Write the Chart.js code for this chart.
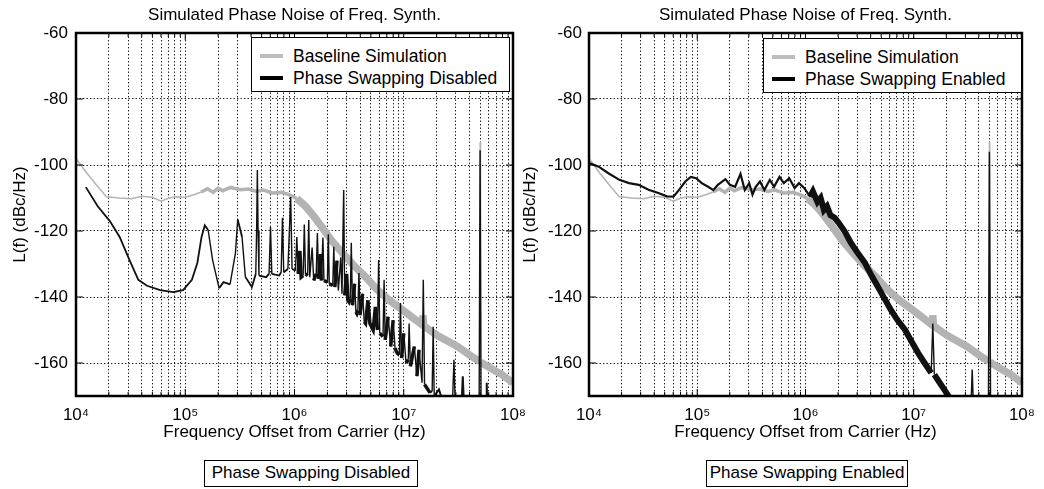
<!DOCTYPE html>
<html>
<head>
<meta charset="utf-8">
<script src="https://cdn.jsdelivr.net/npm/chart.js@4.4.1/dist/chart.umd.min.js"></script>
<style>
  body { margin: 0; background: #fff; font-family: "Liberation Sans", Arial, sans-serif; color: #000; }
  #page { position: relative; width: 1044px; height: 489px; overflow: hidden; }
  .panel { position: absolute; top: 0; height: 450px; }
  #leftPanel { left: 0; width: 540px; }
  #rightPanel { left: 520px; width: 524px; }
  .legend { position: absolute; box-sizing: border-box; width: 259px; height: 55px; border: 1.5px solid #000; background: #fff; font-size: 17.5px; }
  .row { position: absolute; left: 0; right: 0; height: 20px; line-height: 20px; }
  .swatch { position: absolute; left: 8px; top: 8px; width: 23px; height: 4px; }
  .label { position: absolute; left: 41px; top: 0; white-space: nowrap; }
  .caption { position: absolute; top: 460px; height: 27px; box-sizing: border-box; border: 1.5px solid #000; font-size: 17px; line-height: 24px; text-align: center; white-space: nowrap; }
</style>
</head>
<body>
<div id="page">
  <div class="panel" id="leftPanel"><canvas id="disabledChart"></canvas></div>
  <div class="panel" id="rightPanel"><canvas id="enabledChart"></canvas></div>

  <div class="legend" style="left:251px; top:37px;">
    <div class="row" style="top:8px;"><span class="swatch" style="background:#bdbdbd;"></span><span class="label">Baseline Simulation</span></div>
    <div class="row" style="top:30px;"><span class="swatch" style="background:#000;"></span><span class="label">Phase Swapping Disabled</span></div>
  </div>
  <div class="legend" style="left:763px; top:38px;">
    <div class="row" style="top:8px;"><span class="swatch" style="background:#bdbdbd;"></span><span class="label">Baseline Simulation</span></div>
    <div class="row" style="top:30px;"><span class="swatch" style="background:#000;"></span><span class="label">Phase Swapping Enabled</span></div>
  </div>

  <div class="caption" style="left:204px; width:214px;">Phase Swapping Disabled</div>
  <div class="caption" style="left:706px; width:202px;">Phase Swapping Enabled</div>
</div>

<script>
// baseline simulation (same in both panels)
const baselineHz = [1.0e4, 1.26e4, 1.58e4, 1.9e4, 2.5e4, 3.2e4, 4.0e4, 5.0e4, 6.0e4, 7.1e4, 8.3e4,
  1.0e5, 1.2e5, 1.4e5, 1.6e5, 1.8e5, 2.0e5, 2.2e5, 2.6e5, 3.2e5, 3.8e5, 4.5e5, 5.2e5, 6.3e5, 7.6e5, 8.9e5,
  1.05e6, 1.26e6, 1.5e6, 1.8e6, 2.2e6, 2.8e6, 3.5e6, 4.5e6, 5.6e6, 7.4e6,
  1.0e7, 1.48e7, 1.5e7, 1.52e7, 2.0e7, 3.1e7, 4.4e7, 4.95e7, 5.0e7, 5.05e7, 6.2e7, 7.9e7, 1.0e8];
const baselineDb = [-98, -102.5, -106.5, -109.6, -110, -110.2, -109.5, -109.8, -111, -110, -109.6,
  -109.8, -109, -108.2, -107.2, -108.3, -107, -107.8, -106.8, -107.5, -107.3, -108, -107.6, -108.5, -108.3, -109,
  -110.2, -112.5, -115.5, -119, -123, -127, -130.5, -134, -137.5, -141,
  -144.2, -148.5, -145.5, -148.7, -151.5, -155, -158.5, -159.5, -93, -159.8, -161.5, -163.5, -166];

// phase swapping disabled (left panel)
const disabledHz = [
  1.23e4, 1.58e4, 2.04e4, 2.51e4, 3.09e4, 3.72e4, 4.47e4, 5.89e4, 7.76e4, 9.55e4,
  1.15e5, 1.29e5, 1.41e5, 1.51e5, 1.62e5, 1.78e5, 2.04e5, 2.24e5, 2.57e5, 2.88e5, 3.02e5, 3.31e5, 3.55e5,
  4.07e5, 4.42e5, 4.5e5, 4.57e5, 4.64e5, 4.73e5, 5.5e5, 5.85e5, 6.03e5, 6.2e5, 7.24e5, 7.55e5, 7.76e5, 7.97e5,
  8.7e5, 9.23e5, 9.5e5,
  1.02e6, 1.05e6, 1.08e6, 1.12e6, 1.15e6, 1.2e6, 1.23e6, 1.26e6, 1.32e6, 1.35e6, 1.38e6, 1.45e6,
  1.5e6, 1.58e6, 1.62e6, 1.66e6, 1.72e6, 1.76e6, 1.82e6, 1.86e6, 2.0e6, 2.04e6, 2.08e6, 2.24e6,
  2.29e6, 2.34e6, 2.45e6, 2.52e6, 2.65e6, 2.72e6, 2.82e6, 2.88e6, 3.0e6, 3.08e6, 3.16e6, 3.24e6,
  3.31e6, 3.39e6, 3.55e6, 3.65e6, 3.72e6, 3.8e6, 3.89e6, 3.98e6, 4.2e6, 4.35e6, 4.47e6, 4.7e6,
  4.9e6, 5.25e6, 5.5e6, 5.75e6, 5.89e6, 6.03e6, 6.46e6, 6.61e6, 6.76e6, 7.2e6, 7.59e6, 8.0e6,
  8.32e6, 8.71e6, 9.12e6, 9.33e6, 9.55e6, 1.0e7, 1.05e7, 1.1e7, 1.12e7, 1.15e7,
  1.25e7, 1.32e7, 1.38e7, 1.47e7, 1.51e7, 1.55e7, 1.74e7, 1.82e7, 1.86e7, 1.9e7, 2.1e7, 2.24e7,
  2.8e7, 2.88e7, 2.95e7, 3.4e7, 3.47e7, 3.55e7, 4.9e7, 5.0e7, 5.1e7, 5.7e7, 5.75e7, 5.8e7, 1.0e8];
const disabledDb = [
  -106.7, -112.5, -117, -121.8, -128.8, -134.8, -136.6, -137.9, -138.5, -137.9,
  -134.8, -129.7, -121.8, -118.3, -119.7, -128.8, -137.3, -135.5, -136.2, -126.7, -116.5, -121.8, -133.9,
  -137, -133, -120, -101.5, -120, -133.5, -134, -133, -118.8, -133, -133.5, -132.5, -116, -132.5,
  -131.5, -109.7, -131.5,
  -132, -121.8, -133, -126, -134, -133.5, -118, -133, -133.5, -116.7, -134, -125,
  -135, -133, -120.6, -134.5, -127, -135, -122, -135, -135.5, -121, -136, -136.5,
  -124.8, -137, -129, -138, -128, -139, -107.6, -139.5, -133, -141, -141.5, -140.5,
  -123.6, -142.5, -136, -144.5, -145, -144, -132.7, -145.5, -139, -147.5, -148, -141,
  -148, -150, -143, -150, -128.8, -151, -152, -134.8, -153, -146, -155, -147,
  -155.5, -157, -157.5, -141.8, -158.5, -151, -160, -159, -148, -161,
  -155, -164, -156, -166, -134.8, -166.5, -169, -168.5, -149, -170, -168, -171,
  -171, -159, -171, -171, -164, -172, -172, -95.5, -172, -172, -166, -172, -172];

// phase swapping enabled (right panel)
const enabledHz = [1.0e4, 1.23e4, 1.51e4, 1.91e4, 2.34e4, 2.88e4, 3.55e4, 4.37e4, 5.25e4, 6.03e4, 6.76e4, 7.76e4, 8.71e4, 9.77e4,
  1.1e5, 1.26e5, 1.41e5, 1.55e5, 1.82e5, 2.0e5, 2.24e5, 2.51e5, 2.75e5, 3.02e5, 3.24e5, 3.47e5, 3.8e5,
  4.17e5, 4.68e5, 5.13e5, 5.75e5, 6.31e5, 7.08e5, 7.94e5, 8.71e5, 9.77e5,
  1.1e6, 1.17e6, 1.29e6, 1.38e6, 1.48e6, 1.58e6, 1.7e6, 1.86e6, 2.0e6, 2.29e6, 2.63e6, 3.02e6, 3.55e6,
  4.07e6, 4.68e6, 5.37e6, 6.17e6, 7.08e6, 8.32e6, 9.55e6,
  1.1e7, 1.26e7, 1.45e7, 1.5e7, 1.55e7, 1.66e7, 1.91e7, 2.19e7, 3.16e7, 3.39e7, 3.47e7, 3.55e7,
  4.9e7, 5.0e7, 5.13e7, 1.0e8];
const enabledDb = [-99.4, -100.5, -102.5, -104.5, -105.5, -106, -107.5, -108.5, -109.5, -109.6, -107.6, -105, -103.6, -104,
  -105.5, -106.6, -107.6, -106, -104.3, -106, -106.6, -102.7, -107.6, -105.5, -109, -106.6, -105,
  -107.6, -104.5, -106.6, -103.6, -105.5, -104, -107, -105.5, -107,
  -109.6, -108, -111.2, -110, -113.6, -112.5, -115.2, -116, -117.3, -120, -123.6, -126.5, -129.7,
  -133.5, -137, -140.5, -144, -147, -150, -153.5,
  -157, -160, -163, -148, -163.5, -165, -168, -171, -172, -172, -162, -172,
  -172, -96, -172, -172];

const yTicks = [-160, -140, -120, -100, -80, -60];
const decades = [1e4, 1e5, 1e6, 1e7, 1e8];
const decadeLabels = ['10⁴', '10⁵', '10⁶', '10⁷', '10⁸'];
const minorSteps = [2, 3, 4, 5, 6, 7, 8, 9];
const panelTitle = 'Simulated Phase Noise of Freq. Synth.';
const xTitle = 'Frequency Offset from Carrier (Hz)';
const yTitle = 'L(f) (dBc/Hz)';

const FONT = '"Liberation Sans", Arial, sans-serif';
Chart.defaults.font.family = FONT;
Chart.defaults.font.size = 17;
Chart.defaults.color = '#000';

const xGrid = [];
decades.forEach((d, i) => {
  xGrid.push(d);
  if (i < decades.length - 1) minorSteps.forEach((m) => xGrid.push(m * d));
});

const toPoints = (xs, ys) => xs.map((x, i) => ({ x, y: ys[i] }));

// thin for spikes, otherwise width by frequency band
const widthBy = (bands) => (c) => {
  if (Math.abs(c.p1.parsed.y - c.p0.parsed.y) > 8) return 1.4;
  const x = c.p0.parsed.x;
  for (const [limit, w] of bands) {
    if (x < limit) return w;
  }
  return bands[bands.length - 1][1];
};

const framePlugin = {
  id: "frame",
  afterDraw(chart) {
    const { ctx, chartArea: a, scales } = chart;
    const line = (x1, y1, x2, y2) => {
      ctx.beginPath();
      ctx.moveTo(x1, y1);
      ctx.lineTo(x2, y2);
      ctx.stroke();
    };
    ctx.save();
    ctx.strokeStyle = "#000";
    ctx.lineWidth = 1;
    xGrid.forEach((v) => {
      const px = scales.x.getPixelForValue(v);
      const len = decades.includes(v) ? 7 : 4;
      line(px, a.bottom, px, a.bottom - len);
      line(px, a.top, px, a.top + len);
    });
    yTicks.forEach((v) => {
      const py = scales.y.getPixelForValue(v);
      line(a.left, py, a.left + 7, py);
      line(a.right, py, a.right - 7, py);
    });
    ctx.lineWidth = 2.5;
    ctx.strokeRect(a.left, a.top, a.right - a.left, a.bottom - a.top);
    ctx.fillStyle = "#000";
    ctx.font = "17px " + FONT;
    ctx.textAlign = "center";
    ctx.textBaseline = "middle";
    ctx.fillText(panelTitle, (a.left + a.right) / 2, 15);
    ctx.restore();
  },
};

const makeChart = (id, datasets, yAxisWidth, padRight, yTitlePad, yTickPad) =>
  new Chart(document.getElementById(id), {
    type: "line",
    data: { datasets },
    options: {
      responsive: true,
      maintainAspectRatio: false,
      animation: false,
      layout: { padding: { top: 33, right: padRight, bottom: 0, left: 0 } },
      plugins: { legend: { display: false }, tooltip: { enabled: false } },
      elements: { point: { radius: 0 }, line: { tension: 0 } },
      scales: {
        x: {
          type: "logarithmic",
          min: 1e4,
          max: 1e8,
          afterBuildTicks: (s) => {
            s.ticks = xGrid.map((value) => ({ value }));
          },
          afterFit: (s) => {
            s.height = 54;
          },
          ticks: {
            autoSkip: false,
            maxRotation: 0,
            padding: 9,
            callback: (v) => {
              const i = decades.indexOf(v);
              return i >= 0 ? decadeLabels[i] : "";
            },
          },
          grid: { color: "#1a1a1a", lineWidth: 1, drawTicks: false },
          border: { display: false, dash: [1.4, 2.1] },
          title: { display: true, text: xTitle, padding: { top: 0, bottom: 7 } },
        },
        y: {
          min: -170,
          max: -60,
          afterBuildTicks: (s) => {
            s.ticks = yTicks.map((value) => ({ value }));
          },
          afterFit: (s) => {
            s.width = yAxisWidth;
          },
          ticks: { padding: yTickPad },
          grid: { color: "#1a1a1a", lineWidth: 1, drawTicks: false },
          border: { display: false, dash: [1.4, 2.1] },
          title: { display: true, text: yTitle, padding: { top: yTitlePad, bottom: 0 } },
        },
      },
    },
    plugins: [framePlugin],
  });

const baselineSet = () => ({
  label: "Baseline Simulation",
  data: toPoints(baselineHz, baselineDb),
  borderColor: "#b3b3b3",
  order: 2,
  clip: 0,
  segment: { borderWidth: widthBy([[1.4e5, 1.5], [1.0e6, 3.5], [1e9, 7.5]]) },
});

makeChart("disabledChart", [
  {
    label: "Phase Swapping Disabled",
    data: toPoints(disabledHz, disabledDb),
    borderColor: "#111",
    order: 1,
    clip: 0,
    segment: { borderWidth: widthBy([[1.0e6, 1.8], [1.6e7, 3.5], [1e9, 2]]) },
  },
  baselineSet(),
], 76, 27, 10, 8);

makeChart("enabledChart", [
  {
    label: "Phase Swapping Enabled",
    data: toPoints(enabledHz, enabledDb),
    borderColor: "#111",
    order: 1,
    clip: 0,
    segment: { borderWidth: widthBy([[1.0e6, 2.2], [2.3e7, 6], [1e9, 2]]) },
  },
  baselineSet(),
], 69, 19, 0, 7);
</script>
</body>
</html>
